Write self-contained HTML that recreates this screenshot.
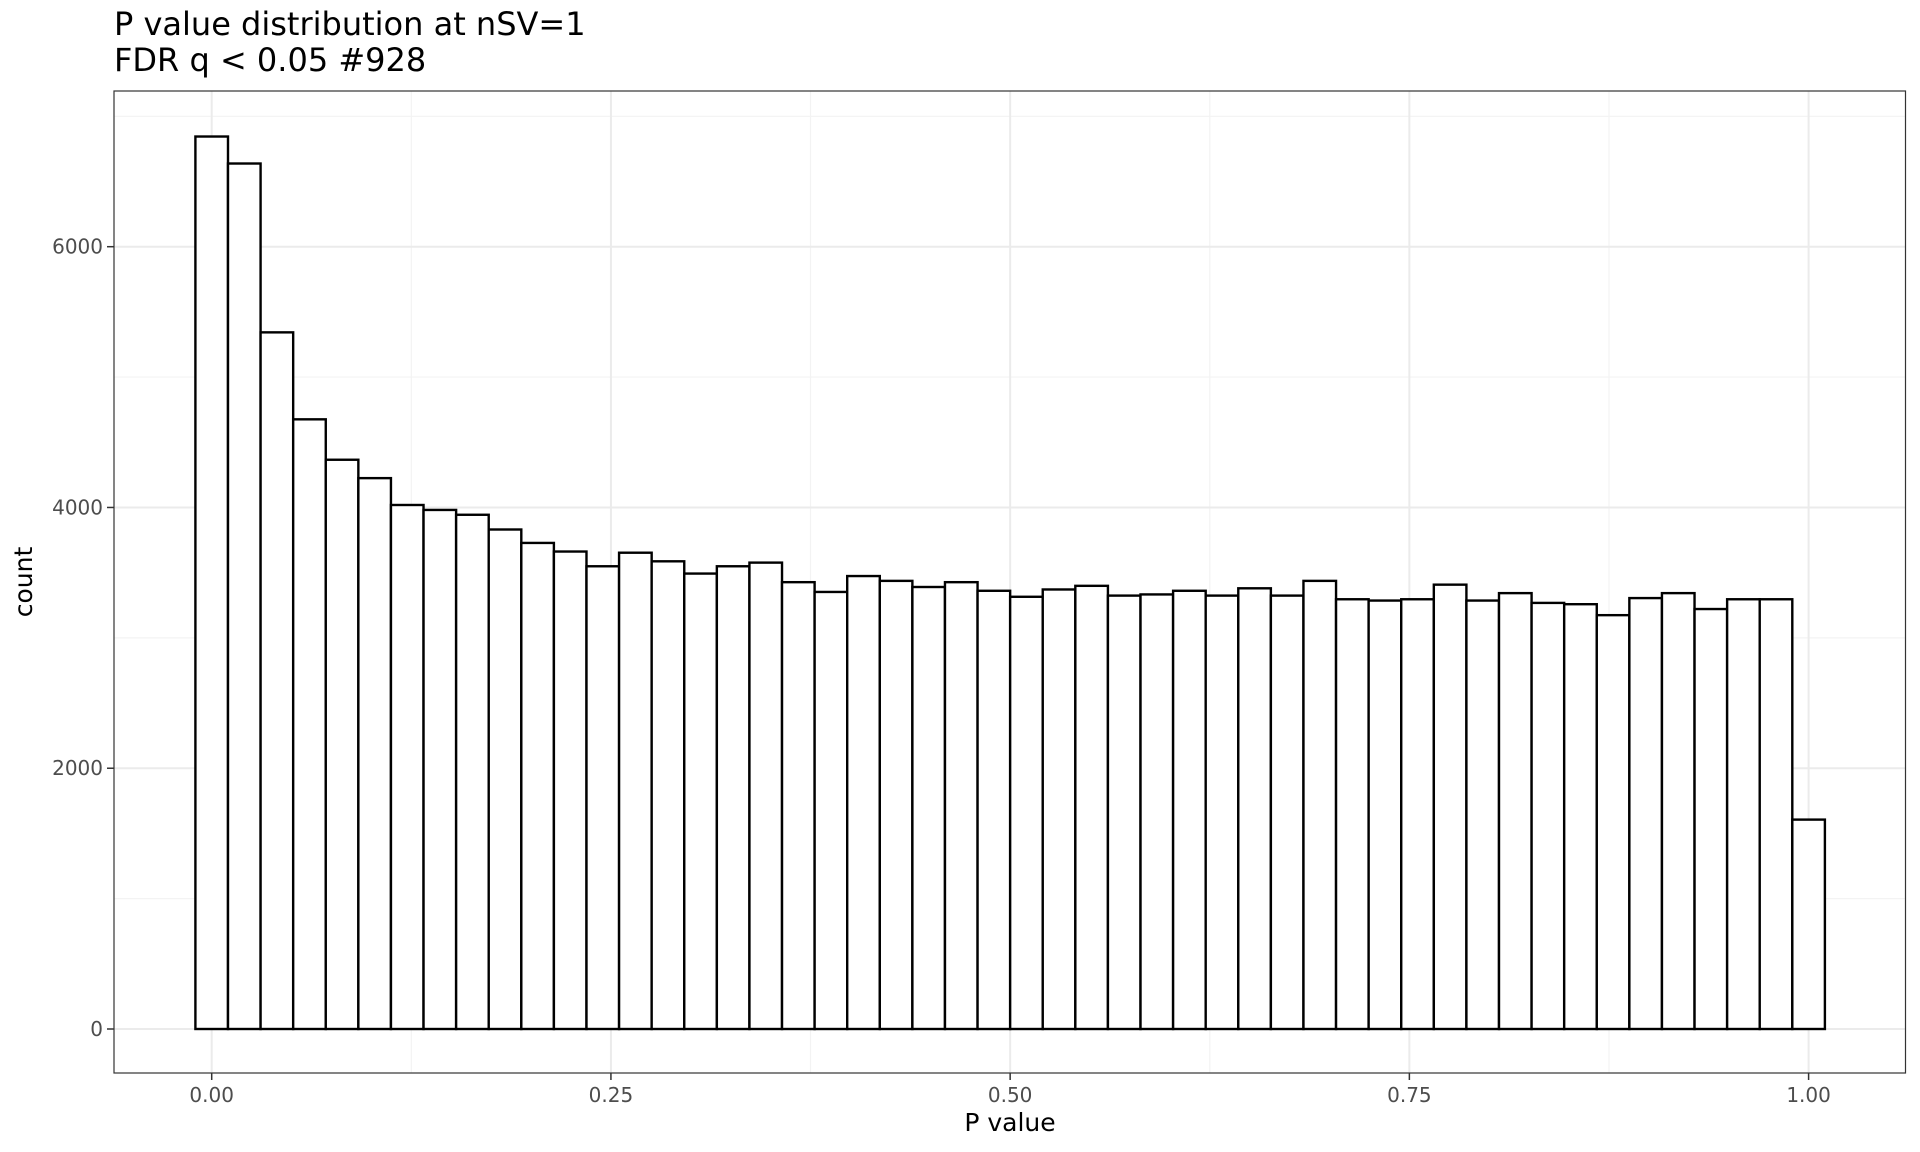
<!DOCTYPE html>
<html><head><meta charset="utf-8"><style>
html,body{margin:0;padding:0;background:#fff}
svg{display:block}
text{font-family:"DejaVu Sans","Liberation Sans",sans-serif}
</style></head><body>
<svg id="chart" width="1920" height="1152" xmlns="http://www.w3.org/2000/svg">
<text x="114" y="35" font-size="32" fill="#000">P value distribution at nSV=1</text>
<text x="114" y="71" font-size="32" fill="#000">FDR q &lt; 0.05 #928</text>
<g id="grid"></g>
<g id="bars"></g>
<rect x="114" y="91" width="1791.5" height="982" fill="none" stroke="#333" stroke-width="1.2"/>
<g id="axes"></g>
<text x="1010" y="1131" font-size="25" text-anchor="middle" fill="#000">P value</text>
<text x="0" y="0" font-size="25" text-anchor="middle" fill="#000" transform="translate(32,582) rotate(-90)">count</text>
</svg>
<script>
const counts = [6845,6638,5343,4676,4366,4225,4019,3981,3944,3831,3728,3662,3549,3653,3587,3493,3549,3577,3427,3352,3474,3437,3390,3427,3361,3315,3371,3399,3324,3333,3361,3324,3380,3324,3437,3296,3286,3296,3408,3286,3343,3268,3258,3174,3305,3343,3221,3296,3296,1606];
const xTicks = [0, 0.25, 0.5, 0.75, 1];
const xTickLabels = ["0.00","0.25","0.50","0.75","1.00"];
const yTicks = [0, 2000, 4000, 6000];
const yTickLabels = ["0","2000","4000","6000"];

const NS="http://www.w3.org/2000/svg";
const X0=211.7, X1=1808.6, Y0=1029, Y6=246.7;
const px = v => X0 + (X1-X0)*v;
const py = v => Y0 - (Y0-Y6)*v/6000;
const PL=114, PR=1905.5, PT=91, PB=1073;
function mk(tag, attrs, parent){const e=document.createElementNS(NS,tag);for(const k in attrs)e.setAttribute(k,attrs[k]);parent.appendChild(e);return e;}
const grid=document.getElementById('grid'), bars=document.getElementById('bars'), axes=document.getElementById('axes');
for(let i=0;i<xTicks.length-1;i++){const v=(xTicks[i]+xTicks[i+1])/2;
 const l=mk('line',{x1:px(v),x2:px(v),y1:PT,y2:PB,stroke:'#f3f3f3','stroke-width':1.2},grid);
 
 }
for(let i=0;i<yTicks.length-1;i++){const v=(yTicks[i]+yTicks[i+1])/2;
 const l=mk('line',{x1:PL,x2:PR,y1:py(v),y2:py(v),stroke:'#f3f3f3','stroke-width':1.2},grid);
 
 }
{const v=yTicks[yTicks.length-1]+1000;const l=mk('line',{x1:PL,x2:PR,y1:py(v),y2:py(v),stroke:'#f3f3f3','stroke-width':1.2},grid);
 
 }
xTicks.forEach((v,i)=>{
 const l=mk('line',{x1:px(v),x2:px(v),y1:PT,y2:PB,stroke:'#ebebeb','stroke-width':2},grid);
 
 
 const t=mk('line',{x1:px(v),x2:px(v),y1:PB,y2:PB+7,stroke:'#333','stroke-width':1.5},axes);
 
 
 const tx=mk('text',{x:px(v),y:1102,'font-size':20,'text-anchor':'middle',fill:'#4d4d4d'},axes);
 tx.textContent=xTickLabels[i];
 
 
});
yTicks.forEach((v,i)=>{
 const l=mk('line',{x1:PL,x2:PR,y1:py(v),y2:py(v),stroke:'#ebebeb','stroke-width':2},grid);
 
 
 const t=mk('line',{x1:PL-7,x2:PL,y1:py(v),y2:py(v),stroke:'#333','stroke-width':1.5},axes);
 
 
 const tx=mk('text',{x:PL-11,y:py(v)+7,'font-size':20,'text-anchor':'end',fill:'#4d4d4d'},axes);
 tx.textContent=yTickLabels[i];
 
 
});
const n=counts.length, bw=1/(n-1);
counts.forEach((c,i)=>{
 const c0=i*bw;
 const x=px(c0-bw/2), w=px(c0+bw/2)-x;
 const r=mk('rect',{x:x,y:py(c),width:w,height:py(0)-py(c),fill:'#fff',stroke:'#000','stroke-width':2.4},bars);
 
 
});
</script>
</body></html>
